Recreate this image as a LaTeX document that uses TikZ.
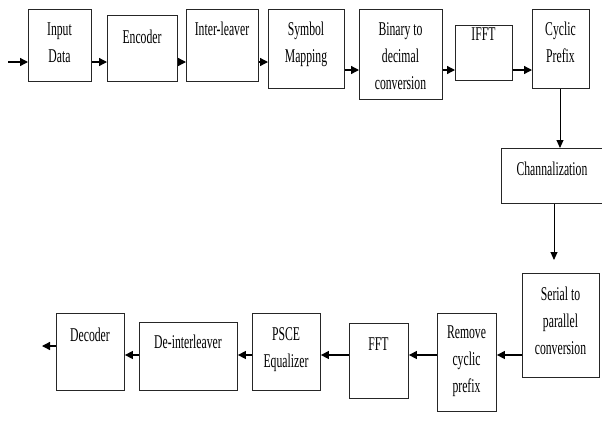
\documentclass[tikz,border=0pt]{standalone}
\usepackage{fontspec}
\setmainfont[FakeStretch=0.6]{Liberation Serif}
\usetikzlibrary{arrows.meta}
\tikzset{
  box/.style={draw=black!85, line width=0.9pt, inner sep=0pt, fill=none},
  lbl/.style={inner sep=0pt, align=center, anchor=north, font=\fontsize{19.5}{27}\selectfont},
  arr/.style={draw=black, line width=1.3pt, -{Triangle[length=8pt,width=8pt]}},
  conn/.style={draw=black, line width=0.9pt, -{Triangle[length=8pt,width=7pt]}}
}
\newcommand{\blk}[5]{% name, x1, y1, x2, y2
  \pgfmathsetmacro{\bw}{#4-#2}\pgfmathsetmacro{\bh}{#5-#3}%
  \node[box, minimum width=\bw pt, minimum height=\bh pt, anchor=north west] (#1) at (#2,#3) {};}
\newcommand{\txt}[4]{% name, cx, baseline, text
  \node[lbl] (#1) at (#2,#3-18.9) {\strut #4};}
\begin{document}
\begin{tikzpicture}[x=1pt,y=-1pt]
\useasboundingbox (0,0) rectangle (602,421);
% top row
\blk{inp}{28}{9}{91}{81}      \txt{tinp}{59.5}{35}{Input\\Data}
\blk{enc}{107}{15}{177}{81}   \txt{tenc}{142}{43}{Encoder}
\blk{intl}{186}{9}{258}{81}   \txt{tintl}{222}{35}{Inter-leaver}
\blk{sym}{268}{9}{344}{88}    \txt{tsym}{306}{35}{Symbol\\Mapping}
\blk{bin}{359}{9}{442}{99}    \txt{tbin}{400.5}{35}{Binary to\\decimal\\conversion}
\blk{ifft}{455}{25}{512}{80}  \txt{tifft}{483.5}{40}{IFFT}
\blk{cp}{532}{9}{589}{88}     \txt{tcp}{560.5}{35}{Cyclic\\Prefix}
% right column
\blk{chan}{501}{148}{608}{203} \txt{tchan}{552}{175}{Channalization}
\blk{s2p}{522}{273}{599}{377}  \txt{ts2p}{560.5}{300}{Serial to\\parallel\\conversion}
% bottom row
\blk{rcp}{437}{313}{496}{411}  \txt{trcp}{466.5}{338}{Remove\\cyclic\\prefix}
\blk{fft}{349}{323}{408}{398}  \txt{tfft}{378.5}{350}{FFT}
\blk{psce}{252}{313}{320}{390} \txt{tpsce}{286}{340}{PSCE\\Equalizer}
\blk{deint}{139}{322}{237}{390} \txt{tdeint}{188}{348}{De-interleaver}
\blk{dec}{56}{313}{124}{390}   \txt{tdec}{90}{341}{Decoder}
% free ends
\coordinate (in) at (8,62);
\coordinate (out) at (42,346);
% connectors top row
\draw[arr] (in) -- (in -| inp.west);
\draw[arr] (inp.east |- 0,62) -- (enc.west |- 0,62);
\draw[arr] (enc.east |- 0,62) -- (intl.west |- 0,62);
\draw[arr] (intl.east |- 0,62) -- (sym.west |- 0,62);
\draw[arr] (sym.east |- 0,70) -- (bin.west |- 0,70);
\draw[arr] (bin.east |- 0,70) -- (ifft.west |- 0,70);
\draw[arr] (ifft.east |- 0,70) -- (cp.west |- 0,70);
% vertical
\draw[conn] (cp.south -| 560,0) -- (chan.north -| 560,0);
\draw[conn, shorten >=13pt] (chan.south -| 554,0) -- (s2p.north -| 554,0);
% bottom row
\draw[arr] (s2p.west |- 0,355) -- (rcp.east |- 0,355);
\draw[arr] (rcp.west |- 0,355) -- (fft.east |- 0,355);
\draw[arr] (fft.west |- 0,355) -- (psce.east |- 0,355);
\draw[arr] (psce.west |- 0,355) -- (deint.east |- 0,355);
\draw[arr] (deint.west |- 0,355) -- (dec.east |- 0,355);
\draw[arr] (dec.west |- out) -- (out);
\end{tikzpicture}
\end{document}
